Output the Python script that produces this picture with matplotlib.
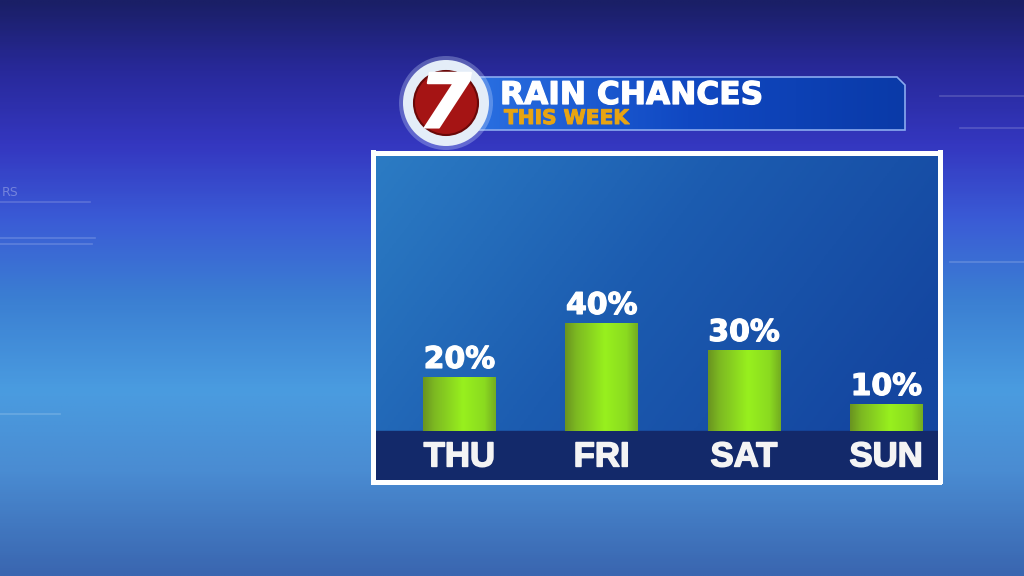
import numpy as np
import matplotlib.pyplot as plt
import matplotlib.patheffects as pe
from matplotlib.colors import LinearSegmentedColormap
from matplotlib.patches import Circle, Polygon

# chart data
days = ["THU", "FRI", "SAT", "SUN"]
rain_chance = [20, 40, 30, 10]
title = "RAIN CHANCES"
subtitle = "THIS WEEK"

W, H = 1024, 576
fig = plt.figure(figsize=(W / 100, H / 100), dpi=100)


def heavy(color, w=1.0):
    # thicken the glyphs a bit, the TV font is heavier than DejaVu bold
    return [pe.withStroke(linewidth=w, foreground=color)]


# ---- background layer, drawn in pixel coordinates ----
bg = fig.add_axes([0, 0, 1, 1])
bg.axis("off")

bg_cmap = LinearSegmentedColormap.from_list(
    "bg", [(0, "#1a1f66"), (0.12, "#28299a"), (0.25, "#3437c0"),
           (0.38, "#3a5bd6"), (0.52, "#3b7fd2"), (0.68, "#4a9ce0"),
           (0.82, "#4a8cd2"), (1, "#3a66b0")])
yy = np.linspace(0, 1, 300)[:, None]
xx = np.linspace(0, 1, 400)[None, :]
bg.imshow(yy + 0 * xx, cmap=bg_cmap, extent=(0, W, H, 0), aspect="auto", zorder=0)

# faint decorative lines in the backdrop
for (x0, x1, y) in [(0, 90, 202), (0, 95, 238), (0, 92, 244), (940, 1024, 96),
                    (960, 1024, 128), (950, 1024, 262), (0, 60, 414)]:
    bg.plot([x0, x1], [y, y], color="white", alpha=0.18, lw=1.2, zorder=1)
bg.text(2, 196, "RS", color="white", alpha=0.3, fontsize=9, zorder=1)

# header banner
banner = Polygon([(470, 77), (897, 77), (905, 85), (905, 130), (470, 130)],
                 closed=True, fc="none", ec="#8aaaf0", lw=1.2, zorder=3)
bg.add_patch(banner)
ban_cmap = LinearSegmentedColormap.from_list("ban", ["#2a70e2", "#1048c2", "#0a3aa8"])
im = bg.imshow(np.linspace(0, 1, 200)[None, :], cmap=ban_cmap,
               extent=(470, 905, 130, 77), aspect="auto", zorder=2)
im.set_clip_path(banner)

# station logo
bg.add_patch(Circle((446, 103), 47, fc="#cfe0ff", alpha=0.3, ec="none", zorder=4))
bg.add_patch(Circle((446, 103), 43, fc="#e4edf8", ec="none", zorder=4))
bg.add_patch(Circle((446, 103), 32, fc="#a51414", ec="#6a0808", lw=1.5, zorder=5))
bg.text(445, 107, "7", fontsize=54, fontweight="bold", style="italic",
        color="white", ha="center", va="center", zorder=6,
        path_effects=heavy("white", 1.5))

bg.text(500, 104, title, fontsize=22.5, fontweight="bold", color="white",
        ha="left", va="baseline", zorder=6, path_effects=heavy("white", 0.9))
bg.text(504, 124, subtitle, fontsize=14.5, fontweight="bold", color="#e8a412",
        ha="left", va="baseline", zorder=6, path_effects=heavy("#e8a412", 0.7))

bg.set_xlim(0, W)
bg.set_ylim(H, 0)

# ---- chart panel ----
left, right, top, bottom = 372.5, 939.5, 152.5, 481.5
ax = fig.add_axes([left / W, 1 - bottom / H, (right - left) / W, (bottom - top) / H])

px = np.linspace(0, 1, 300)[None, :]
py = np.linspace(0, 1, 200)[:, None]
panel_cmap = LinearSegmentedColormap.from_list("panel", ["#2c7cc4", "#1c5cb0", "#1446a0"])
ax.imshow(np.clip(0.8 * px + 0.35 * py, 0, 1), cmap=panel_cmap,
          extent=(0, 1, 0, 1), transform=ax.transAxes, aspect="auto", zorder=0)

ymin = -18.7
ax.axhspan(ymin, 0, color="#13296a", zorder=1)

bars = ax.bar(range(len(days)), rain_chance, width=0.513, color="#8ad820", zorder=2)
bar_cmap = LinearSegmentedColormap.from_list(
    "bar", [(0, "#6a9420"), (0.15, "#7cb822"), (0.55, "#98f01e"), (0.85, "#8ada20"), (1, "#74ae20")])
for b in bars:
    x0, y0 = b.get_x(), b.get_y()
    gi = ax.imshow(np.linspace(0, 1, 100)[None, :], cmap=bar_cmap,
                   extent=(x0, x0 + b.get_width(), y0, y0 + b.get_height()),
                   aspect="auto", zorder=3)
    gi.set_clip_path(b)

for i, (d, v) in enumerate(zip(days, rain_chance)):
    ax.annotate(f"{v}%", (i, v), xytext=(0, 6.5), textcoords="offset points",
                ha="center", va="baseline", fontsize=21.5, fontweight="bold",
                color="white", zorder=4, path_effects=heavy("white", 0.9))
    ax.text(i, -9.6, d, ha="center", va="center", fontsize=25, fontweight="bold",
            family=["Liberation Sans", "DejaVu Sans"], color="#f4f4f4", zorder=4,
            path_effects=heavy("#f4f4f4", 1.1))

ax.set_xlim(-0.611, 3.374)
ax.set_ylim(ymin, 103.1)
ax.set_xticks([])
ax.set_yticks([])
for s in ax.spines.values():
    s.set_color("white")
    s.set_linewidth(3.6)
    s.set_zorder(5)

fig.savefig("out.png", dpi=100)
